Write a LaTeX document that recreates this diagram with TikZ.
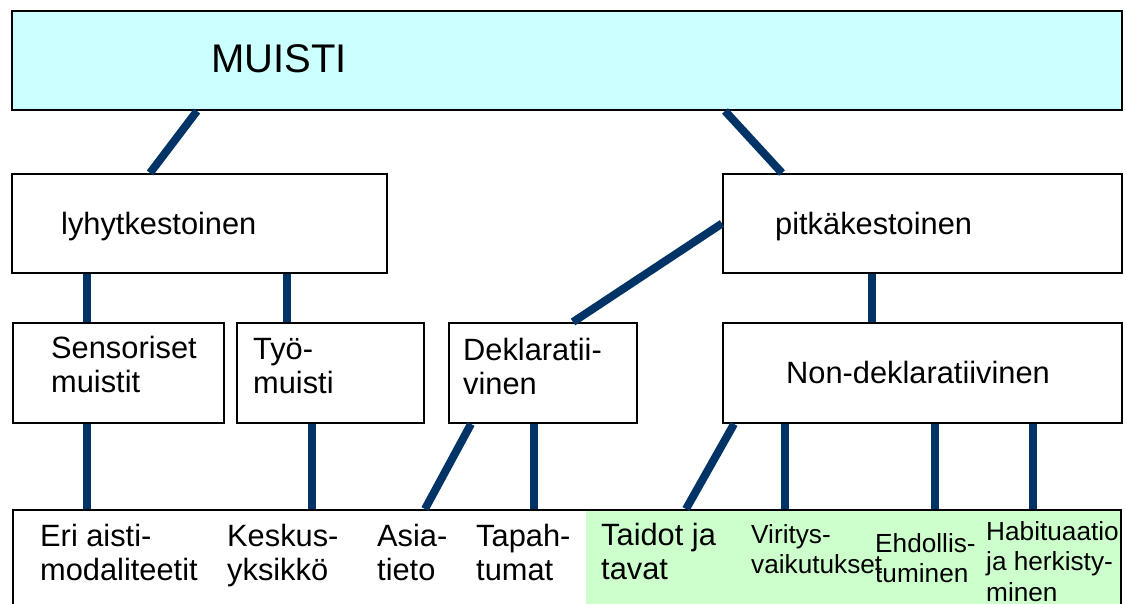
\documentclass[tikz,border=0pt]{standalone}
\usepackage{fontspec}
\setmainfont{Liberation Sans}
\definecolor{topfill}{HTML}{CCFFFF}
\definecolor{leaffill}{HTML}{CCFFCC}
\definecolor{linkblue}{HTML}{003366}
% stacked lines whose baseline is the first line
\newcommand\twoln[2]{\vtop{\hbox{#1}\hbox{#2}}}
\newcommand\threeln[3]{\vtop{\hbox{#1}\hbox{#2}\hbox{#3}}}
\tikzset{
  box/.style={draw=black, line width=2pt, rectangle, inner sep=0pt, anchor=north west},
  link/.style={draw=linkblue, line width=8pt},
  lbl/.style={anchor=base west, inner sep=0pt, font=\fontsize{30.8}{34.5}\selectfont},
  smalllbl/.style={anchor=base west, inner sep=0pt, font=\fontsize{26.2}{30.5}\selectfont},
}
\begin{document}
\begin{tikzpicture}[x=1pt, y=-1pt]
\useasboundingbox (0,0) rectangle (1126,603);
\clip (0,0) rectangle (1126,603);

% boxes
\node[box, fill=topfill, minimum width=1110pt, minimum height=99pt] (muisti) at (11,10) {};
\node[box, minimum width=375pt, minimum height=99pt] (lyhyt) at (11,173) {};
\node[box, minimum width=399pt, minimum height=99pt] (pitka) at (722,173) {};
\node[box, minimum width=211pt, minimum height=100pt] (sens) at (12,322) {};
\node[box, minimum width=187pt, minimum height=100pt] (tyo) at (236,322) {};
\node[box, minimum width=188pt, minimum height=100pt] (dekl) at (448,322) {};
\node[box, minimum width=399pt, minimum height=100pt] (nondekl) at (722,322) {};
\node[box, draw=none, fill=leaffill, minimum width=535pt, minimum height=140pt] (leafbg) at (585,509) {};
\node[box, minimum width=1108pt, minimum height=140pt] (bottom) at (12,509) {};

% connectors
\draw[link] (197,0 |- muisti.south) -- (150,0 |- lyhyt.north);
\draw[link] (725,0 |- muisti.south) -- (782,0 |- pitka.north);
\draw[link] (87,0 |- lyhyt.south) -- (87,0 |- sens.north);
\draw[link] (287,0 |- lyhyt.south) -- (287,0 |- tyo.north);
\draw[link] (pitka.west) -- (573,0 |- dekl.north);
\draw[link] (872,0 |- pitka.south) -- (872,0 |- nondekl.north);
\draw[link] (87,0 |- sens.south) -- (87,0 |- bottom.north);
\draw[link] (312,0 |- tyo.south) -- (312,0 |- bottom.north);
\draw[link] (471,0 |- dekl.south) -- (425,0 |- bottom.north);
\draw[link] (534,0 |- dekl.south) -- (534,0 |- bottom.north);
\draw[link] (734,0 |- nondekl.south) -- (686,0 |- bottom.north);
\draw[link] (785,0 |- nondekl.south) -- (785,0 |- bottom.north);
\draw[link] (935,0 |- nondekl.south) -- (935,0 |- bottom.north);
\draw[link] (1033,0 |- nondekl.south) -- (1033,0 |- bottom.north);

% labels
\node[anchor=base west, inner sep=0pt, font=\fontsize{40}{46}\selectfont] (t-muisti) at (211,72) {MUISTI};
\node[lbl] (t-lyhyt) at (61,234) {lyhytkestoinen};
\node[lbl] (t-pitka) at (775,234) {pitkäkestoinen};
\node[lbl] (t-sens) at (51,358) {\twoln{Sensoriset}{muistit}};
\node[lbl] (t-tyo) at (253,359) {\twoln{Työ-}{muisti}};
\node[lbl] (t-dekl) at (463,360) {\twoln{Deklaratii-}{vinen}};
\node[lbl] (t-nondekl) at (786,383) {Non-deklaratiivinen};
\node[lbl] (t-eri) at (40,546) {\twoln{Eri aisti-}{modaliteetit}};
\node[lbl] (t-keskus) at (227,546) {\twoln{Keskus-}{yksikkö}};
\node[lbl] (t-asia) at (377,546) {\twoln{Asia-}{tieto}};
\node[lbl] (t-tapah) at (476,546) {\twoln{Tapah-}{tumat}};
\node[lbl] (t-taidot) at (601,545) {\twoln{Taidot ja}{tavat}};
\node[smalllbl] (t-viritys) at (751,543) {\twoln{Viritys-}{vaikutukset}};
\node[smalllbl] (t-ehdollis) at (875,552) {\twoln{Ehdollis-}{tuminen}};
\begin{scope}
  \clip (bottom.north west) rectangle (bottom.south east);
  \node[smalllbl] (t-habit) at (986,540) {\threeln{Habituaatio}{ja herkisty-}{minen}};
\end{scope}
\end{tikzpicture}
\end{document}
